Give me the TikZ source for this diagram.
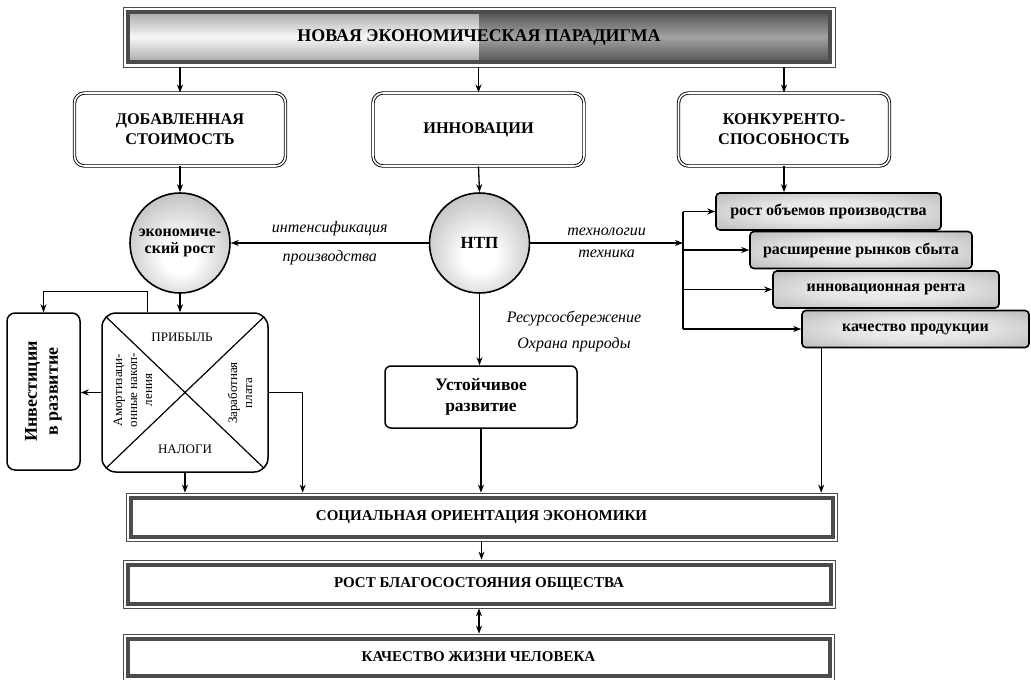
\documentclass[tikz,border=0pt]{standalone}
\usepackage{fontspec}
\setmainfont{Liberation Serif}
\usetikzlibrary{arrows.meta,calc}
\newcommand\myfs[2]{\fontsize{#1}{#2}\selectfont}
\pgfdeclareradialshading{myball}{\pgfpoint{0bp}{-8bp}}{color(0bp)=(white); color(8bp)=(white); color(46bp)=(black!42); color(60bp)=(black!45)}
\pgfdeclareradialshading{myrect}{\pgfpoint{0bp}{0bp}}{color(0bp)=(black!6); color(15bp)=(black!10); color(50bp)=(black!38); color(72bp)=(black!48)}
\begin{document}
\begin{tikzpicture}[x=1pt,y=-1pt,
 arr/.style={-{Stealth[length=8pt,width=6pt,inset=2.5pt]}, line width=1.3pt},
 dblarr/.style={{Stealth[length=8pt,width=6pt,inset=2.5pt]}-{Stealth[length=8pt,width=6pt,inset=2.5pt]}, line width=1.3pt},
 ln/.style={line width=1.3pt},
 lbl/.style={font=\itshape\myfs{16}{18}},
 topbox/.style={draw, double, line width=0.9pt, double distance=1.6pt, rounded corners=10pt,
   minimum width=211, minimum height=73, align=center, inner sep=0, font=\bfseries\myfs{16.3}{20}},
 ball/.style={circle, draw, line width=1.6pt, minimum size=100, inner sep=0,
   shading=myball, align=center},
 graybox/.style={draw, line width=1.6pt, rounded corners=4pt, shading=myrect,
   minimum height=37, inner sep=0, font=\bfseries\myfs{16}{18}},
 plainbox/.style={draw, line width=1.5pt, inner sep=0, align=center},
 bigframe/.style={draw=black!70, line width=0.7pt, inner sep=0, minimum width=711, minimum height=48,
   font=\bfseries\myfs{15}{18},
   path picture={\draw[line width=4pt] ([shift={(4.5pt,-4.5pt)}]path picture bounding box.north west)
     rectangle ([shift={(-4.5pt,4.5pt)}]path picture bounding box.south east);}},
 hdrframe/.style={draw=black!70, line width=0.7pt, inner sep=0, minimum width=712, minimum height=60,
   font=\bfseries\myfs{17.9}{20},
   path picture={
     \shade[top color=black!40, bottom color=black!40, middle color=black!3]
       ([shift={(6pt,-6pt)}]path picture bounding box.north west) rectangle
       ([shift={(0pt,6pt)}]path picture bounding box.south);
     \shade[top color=black!66, bottom color=black!66, middle color=black!36]
       ([shift={(0pt,-6pt)}]path picture bounding box.north) rectangle
       ([shift={(-6pt,6pt)}]path picture bounding box.south east);
     \draw[line width=4pt] ([shift={(5pt,-5pt)}]path picture bounding box.north west)
       rectangle ([shift={(-5pt,5pt)}]path picture bounding box.south east);}},
 small/.style={font=\myfs{13}{15}, align=center, inner sep=0}
]
\useasboundingbox (0,0) rectangle (1031,680);

% header
\node[hdrframe] (hdr) at (479,37) {НОВАЯ ЭКОНОМИЧЕСКАЯ ПАРАДИГМА};

% top boxes
\node[topbox] (dob) at (180,129.5) {ДОБАВЛЕННАЯ\\СТОИМОСТЬ};
\node[topbox] (inn) at (478.5,129.5) {ИННОВАЦИИ};
\node[topbox] (kon) at (784,129.5) {КОНКУРЕНТО-\\СПОСОБНОСТЬ};

% circles
\node[ball, font=\bfseries\myfs{16}{17.5}] (er) at (180,243) {экономиче-\\ский рост};
\node[ball, font=\bfseries\myfs{17}{19}] (ntp) at (479.5,243) {НТП};

% right gray boxes
\node[graybox, minimum width=225] (r1) at (828.5,211.5) {рост объемов производства};
\node[graybox, minimum width=222] (r2) at (861,250) {расширение рынков сбыта};
\node[graybox, minimum width=226] (r3) at (886,289.5) {инновационная рента};
\node[graybox, minimum width=227] (r4) at (915.5,329) {качество продукции};

% sustainable development
\node[plainbox, rounded corners=6pt, minimum width=192, minimum height=62,
  font=\bfseries\myfs{17.5}{21}] (ust) at (481,397) {Устойчивое\\развитие};

% quad box
\node[plainbox, rounded corners=14pt, minimum width=166, minimum height=159,
  path picture={\draw[line width=1.2pt]
    (path picture bounding box.north west) -- (path picture bounding box.south east)
    (path picture bounding box.south west) -- (path picture bounding box.north east);}]
  (quad) at (185,392.5) {};
\node[small] (prib) at (182,337) {ПРИБЫЛЬ};
\node[small] (nal) at (185,449) {НАЛОГИ};
\node[small, rotate=90] (amo) at (133,390) {Амортизаци-\\онные накоп-\\ления};
\node[small, rotate=90] (zar) at (240,393) {Заработная\\плата};

% investments
\node[plainbox, rounded corners=8pt, minimum width=73, minimum height=157] (inv) at (43.5,391.5) {};
\node[rotate=90, align=center, inner sep=0, font=\bfseries\myfs{18}{21}] (invt) at (inv) {Инвестиции\\в развитие};

% bottom boxes
\node[bigframe] (soc) at (481.5,517) {СОЦИАЛЬНАЯ ОРИЕНТАЦИЯ ЭКОНОМИКИ};
\node[bigframe, minimum width=712] (rost) at (479,584) {РОСТ БЛАГОСОСТОЯНИЯ ОБЩЕСТВА};
\node[bigframe, minimum height=46] (kach) at (478.5,657) {КАЧЕСТВО ЖИЗНИ ЧЕЛОВЕКА};

% connectors from header
\draw[arr] (hdr.south -| dob.north) -- (dob.north);
\draw[arr] (hdr.south -| inn.north) -- (inn.north);
\draw[arr] (hdr.south -| kon.north) -- (kon.north);

\draw[arr] (dob.south) -- (er.north);
\draw[arr] (inn.south) -- (ntp.north);
\draw[arr] (kon.south) -- (kon.south |- r1.north);

% НТП -> экономический рост
\draw[arr] (ntp.west) -- (er.east)
  node[lbl, midway, above=3pt] {интенсификация}
  node[lbl, midway, below=3pt] {производства};

% НТП -> trunk
\coordinate (tr) at (683,243);
\draw[arr] (ntp.east) -- (tr)
  node[lbl, midway, above=3pt] {технологии}
  node[lbl, midway, below=3pt] {техника};
\draw[ln] (tr |- r1.west) -- (tr |- r4.west);
\draw[arr] (tr |- r1.west) -- (r1.west);
\draw[arr] (tr |- r2.west) -- (r2.west);
\draw[arr] (tr |- r3.west) -- (r3.west);
\draw[arr] (tr |- r4.west) -- (r4.west);

% r4 -> soc
\coordinate (r4d) at ($(r4.south west)+(20,0)$);
\draw[arr] (r4d) -- (r4d |- soc.north);

% НТП -> Устойчивое развитие
\coordinate (rs) at (574,318);
\coordinate (oh) at (574,345);
\draw[arr] (ntp.south) -- (ntp.south |- ust.north);
\node[lbl] (rsl) at (rs) {Ресурсосбережение};
\node[lbl] (ohl) at (oh) {Охрана природы};
\draw[arr] (ust.south) -- (ust.south |- soc.north);

% left part
\draw[arr] (er.south) -- (er.south |- quad.north);
\draw[arr] ($(quad.north west)+(46,0)$) -- ++(0,-21) -| (inv.north);
\draw[arr] (quad.west) -- (quad.west -| inv.east);
\draw[arr] (quad.east) -| ($(soc.north west)+(177,0)$);
\draw[arr] (quad.south) -- (quad.south |- soc.north);

% bottom
\draw[arr] (soc.south) -- (soc.south |- rost.north);
\draw[dblarr] (rost.south) -- (rost.south |- kach.north);
\end{tikzpicture}
\end{document}
